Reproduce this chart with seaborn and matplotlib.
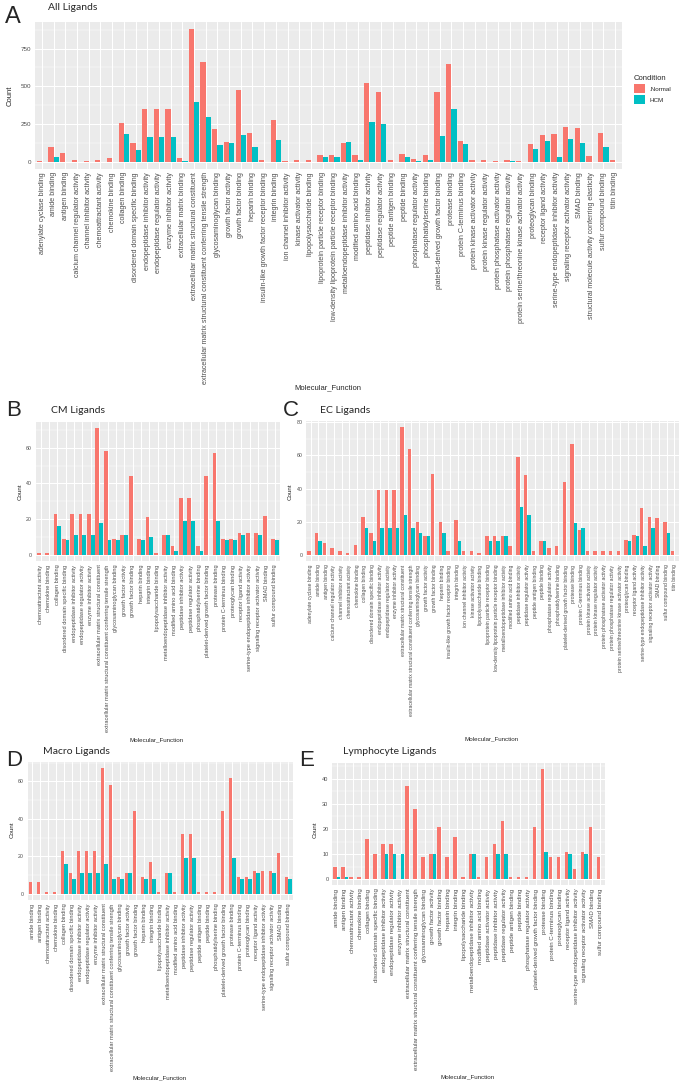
import numpy as np
import pandas as pd
import matplotlib
matplotlib.use("Agg")
import matplotlib.pyplot as plt
from matplotlib.patches import Patch
from matplotlib.ticker import MultipleLocator
import seaborn as sns

NA = np.nan

# --- values (Normal = .Normal, HCM = HCM, NA = no bar) ---
all_functions = [
    "adenylate cyclase binding", "amide binding", "antigen binding",
    "calcium channel regulator activity", "channel inhibitor activity",
    "chemoattractant activity", "chemokine binding", "collagen binding",
    "disordered domain specific binding", "endopeptidase inhibitor activity",
    "endopeptidase regulator activity", "enzyme inhibitor activity",
    "extracellular matrix binding", "extracellular matrix structural constituent",
    "extracellular matrix structural constituent conferring tensile strength",
    "glycosaminoglycan binding", "growth factor activity", "growth factor binding",
    "heparin binding", "insulin-like growth factor receptor binding", "integrin binding",
    "ion channel inhibitor activity", "kinase activator activity",
    "lipopolysaccharide binding", "lipoprotein particle receptor binding",
    "low-density lipoprotein particle receptor binding",
    "metalloendopeptidase inhibitor activity", "modified amino acid binding",
    "peptidase inhibitor activity", "peptidase regulator activity",
    "peptide antigen binding", "peptide binding", "phosphatase regulator activity",
    "phosphatidylserine binding", "platelet-derived growth factor binding",
    "protease binding", "protein C-terminus binding", "protein kinase activator activity",
    "protein kinase regulator activity", "protein phosphatase activator activity",
    "protein phosphatase regulator activity",
    "protein serine/threonine kinase activator activity", "proteoglycan binding",
    "receptor ligand activity", "serine-type endopeptidase inhibitor activity",
    "signaling receptor activator activity", "SMAD binding",
    "structural molecule activity conferring elasticity", "sulfur compound binding",
    "titin binding",
]
all_normal = [8, 101, 57, 15, 8, 12, 24, 257, 123, 349, 349, 353, 24, 882, 658, 215, 129,
              474, 191, 11, 279, 8, 11, 11, 48, 48, 125, 46, 520, 463, 15, 53, 20, 46, 463,
              645, 136, 11, 11, 7, 11, 7, 121, 180, 186, 232, 226, 39, 191, 9]
all_hcm = [NA, 31, NA, NA, NA, NA, NA, 184, 81, 162, 162, 167, 8, 397, 298, 110, 123,
           175, 101, NA, 143, NA, NA, NA, 31, 31, 129, 13, 263, 250, NA, 31, 7, 13, 173,
           349, 118, NA, NA, NA, 7, NA, 83, 136, 31, 149, 123, NA, 101, NA]

cm_functions = [
    "chemoattractant activity", "chemokine binding", "collagen binding",
    "disordered domain specific binding", "endopeptidase inhibitor activity",
    "endopeptidase regulator activity", "enzyme inhibitor activity",
    "extracellular matrix structural constituent",
    "extracellular matrix structural constituent conferring tensile strength",
    "glycosaminoglycan binding", "growth factor activity", "growth factor binding",
    "heparin binding", "integrin binding", "lipopolysaccharide binding",
    "metalloendopeptidase inhibitor activity", "modified amino acid binding",
    "peptidase inhibitor activity", "peptidase regulator activity",
    "phosphatidylserine binding", "platelet-derived growth factor binding",
    "protease binding", "protein C-terminus binding", "proteoglycan binding",
    "receptor ligand activity", "serine-type endopeptidase inhibitor activity",
    "signaling receptor activator activity", "SMAD binding", "sulfur compound binding",
]
cm_normal = [1, 1, 23, 9, 23, 23, 23, 71, 58, 9, 11, 44, 9, 21, 1, 11, 5, 32, 32, 5, 44,
             57, 9, 9, 12, 12, 12, 22, 9]
cm_hcm = [NA, NA, 16, 8, 11, 11, 11, 18, 8, 8, 11, NA, 8, 10, NA, 11, 2, 19, 19, 2, NA,
          19, 8, 8, 11, NA, 11, NA, 8]

ec_functions = [
    "adenylate cyclase binding", "amide binding", "antigen binding",
    "calcium channel regulator activity", "channel inhibitor activity",
    "chemoattractant activity", "chemokine binding", "collagen binding",
    "disordered domain specific binding", "endopeptidase inhibitor activity",
    "endopeptidase regulator activity", "enzyme inhibitor activity",
    "extracellular matrix structural constituent",
    "extracellular matrix structural constituent conferring tensile strength",
    "glycosaminoglycan binding", "growth factor activity", "growth factor binding",
    "heparin binding", "insulin-like growth factor receptor binding", "integrin binding",
    "ion channel inhibitor activity", "kinase activator activity",
    "lipopolysaccharide binding", "lipoprotein particle receptor binding",
    "low-density lipoprotein particle receptor binding",
    "metalloendopeptidase inhibitor activity", "modified amino acid binding",
    "peptidase inhibitor activity", "peptidase regulator activity",
    "peptide antigen binding", "peptide binding", "phosphatase regulator activity",
    "phosphatidylserine binding", "platelet-derived growth factor binding",
    "protease binding", "protein C-terminus binding", "protein kinase activator activity",
    "protein kinase regulator activity", "protein phosphatase activator activity",
    "protein phosphatase regulator activity",
    "protein serine/threonine kinase activator activity", "proteoglycan binding",
    "receptor ligand activity", "serine-type endopeptidase inhibitor activity",
    "signaling receptor activator activity", "SMAD binding", "sulfur compound binding",
    "titin binding",
]
ec_normal = [2, 13, 7, 4, 2, 1, 6, 23, 13, 39, 39, 39, 77, 64, 20, 11, 49, 20, 2, 21, 2, 2,
             1, 11, 11, 11, 5, 59, 48, 2, 8, 4, 5, 44, 67, 15, 2, 2, 2, 2, 2, 9, 12, 28, 23,
             22, 20, 2]
ec_hcm = [NA, 8, NA, NA, NA, NA, NA, 16, 8, 16, 16, 16, 24, 16, 13, 11, NA, 13, NA, 8, NA,
          NA, NA, 8, 8, 11, NA, 29, 24, NA, 8, NA, NA, NA, 19, 16, NA, NA, NA, NA, NA, 8,
          11, 5, 16, NA, 13, NA]

macro_functions = [
    "amide binding", "antigen binding", "chemoattractant activity", "chemokine binding",
    "collagen binding", "disordered domain specific binding",
    "endopeptidase inhibitor activity", "endopeptidase regulator activity",
    "enzyme inhibitor activity", "extracellular matrix structural constituent",
    "extracellular matrix structural constituent conferring tensile strength",
    "glycosaminoglycan binding", "growth factor activity", "growth factor binding",
    "heparin binding", "integrin binding", "lipopolysaccharide binding",
    "metalloendopeptidase inhibitor activity", "modified amino acid binding",
    "peptidase inhibitor activity", "peptidase regulator activity",
    "peptide antigen binding", "peptide binding", "phosphatidylserine binding",
    "platelet-derived growth factor binding", "protease binding",
    "protein C-terminus binding", "proteoglycan binding", "receptor ligand activity",
    "serine-type endopeptidase inhibitor activity", "signaling receptor activator activity",
    "SMAD binding", "sulfur compound binding",
]
macro_normal = [6, 6, 1, 1, 23, 11, 23, 23, 23, 67, 58, 9, 11, 44, 9, 17, 1, 11, 1, 32, 32,
                1, 1, 1, 44, 62, 9, 9, 12, 12, 12, 22, 9]
macro_hcm = [NA, NA, NA, NA, 16, 8, 11, 11, 11, 16, 8, 8, 11, NA, 8, 8, NA, 11, NA, 19, 19,
             NA, NA, NA, NA, 19, 8, 8, 11, NA, 11, NA, 8]

lympho_functions = [
    "amide binding", "antigen binding", "chemoattractant activity", "chemokine binding",
    "collagen binding", "disordered domain specific binding",
    "endopeptidase inhibitor activity", "endopeptidase regulator activity",
    "enzyme inhibitor activity", "extracellular matrix structural constituent",
    "extracellular matrix structural constituent conferring tensile strength",
    "glycosaminoglycan binding", "growth factor activity", "growth factor binding",
    "heparin binding", "integrin binding", "lipopolysaccharide binding",
    "metalloendopeptidase inhibitor activity", "modified amino acid binding",
    "peptidase activator activity", "peptidase inhibitor activity",
    "peptidase regulator activity", "peptide antigen binding", "peptide binding",
    "phosphatase regulator activity", "platelet-derived growth factor binding",
    "protease binding", "protein C-terminus binding", "proteoglycan binding",
    "receptor ligand activity", "serine-type endopeptidase inhibitor activity",
    "signaling receptor activator activity", "SMAD binding", "sulfur compound binding",
]
lympho_normal = [5, 5, 1, 1, 16, 10, 14, 14, NA, 37, 28, 9, 10, 21, 9, 17, 1, 10, 1, 9, 14,
                 23, 1, 1, 1, 21, 44, 9, 9, 11, 4, 11, 21, 9]
lympho_hcm = [1, 1, NA, NA, NA, NA, 10, 10, 10, NA, NA, NA, 10, NA, NA, NA, NA, 10, NA, NA,
              10, 10, NA, NA, NA, NA, 11, NA, NA, 10, NA, 10, NA, NA]

NORMAL_COLOR = "#F8766D"
HCM_COLOR = "#00BFC4"
W, H = 685, 1088


def px_box(left, top, right, bottom):
    return [left / W, 1 - bottom / H, (right - left) / W, (bottom - top) / H]


def fig_text(fig, x, y, s, **kw):
    fig.text(x / W, 1 - y / H, s, **kw)


def draw_panel(fig, box, functions, normal, hcm, step, tick_size, ytick_size):
    ax = fig.add_axes(px_box(*box))
    df = pd.DataFrame({"Molecular_Function": functions, ".Normal": normal, "HCM": hcm})
    df = df.melt(id_vars="Molecular_Function", var_name="Condition", value_name="Count").dropna()

    sns.barplot(data=df, x="Molecular_Function", y="Count", hue="Condition",
                order=functions, hue_order=[".Normal", "HCM"],
                palette={".Normal": NORMAL_COLOR, "HCM": HCM_COLOR},
                width=0.9, saturation=1, linewidth=0, errorbar=None,
                legend=False, ax=ax)

    top = df["Count"].max()
    ax.set_ylim(-0.05 * top, 1.05 * top)
    ax.set_xlim(-0.6, len(functions) - 0.4)
    ax.set_facecolor("#EBEBEB")
    ax.yaxis.set_major_locator(MultipleLocator(step))
    ax.yaxis.set_minor_locator(MultipleLocator(step / 2))
    ax.grid(True, which="major", color="white", linewidth=0.75)
    ax.grid(True, which="minor", axis="y", color="white", linewidth=0.35)
    ax.set_axisbelow(True)
    for s in ax.spines.values():
        s.set_visible(False)
    ax.set_xlabel("")
    ax.set_ylabel("")
    ax.tick_params(axis="x", rotation=90, labelsize=tick_size, colors="#333333",
                   labelcolor="#4D4D4D", length=1.6, width=0.4, pad=1)
    ax.tick_params(axis="y", labelsize=ytick_size, colors="#333333",
                   labelcolor="#4D4D4D", length=1.6, width=0.4, pad=1)
    ax.tick_params(which="minor", length=0)
    return ax


sns.set_theme(style="darkgrid")
plt.rcParams["font.family"] = ["Liberation Sans", "DejaVu Sans"]

fig = plt.figure(figsize=(W / 100, H / 100), dpi=100)

# --- A: all ligands ---
draw_panel(fig, (35, 22, 622, 168.5), all_functions, all_normal, all_hcm, 250, 5.1, 4.5)
fig_text(fig, 5, 17, "A", fontsize=17, va="center", ha="left")
fig_text(fig, 48, 7.5, "All Ligands", fontsize=7.5, family="Lato", va="center", ha="left")
fig_text(fig, 10, 96, "Count", fontsize=5.5, rotation=90, va="center", ha="center")
fig_text(fig, 328, 388, "Molecular_Function", fontsize=5.5, va="center", ha="center")

handles = [Patch(color=NORMAL_COLOR, linewidth=0), Patch(color=HCM_COLOR, linewidth=0)]
leg = fig.legend(handles, [".Normal", "HCM"], title="Condition",
                 loc="upper left", bbox_to_anchor=(631 / W, 1 - 73 / H),
                 frameon=False, fontsize=4.5, title_fontsize=5.5,
                 handlelength=1.9, handleheight=1.8, handletextpad=0.6,
                 labelspacing=0.3, borderaxespad=0)
leg._legend_box.align = "left"

# --- B: CM ligands ---
draw_panel(fig, (35.5, 422, 280, 561), cm_functions, cm_normal, cm_hcm, 20, 4.05, 3.8)
fig_text(fig, 6, 411, "B", fontsize=16, va="center", ha="left")
fig_text(fig, 51, 411, "CM Ligands", fontsize=7.5, family="Lato", va="center", ha="left")
fig_text(fig, 20, 492, "Count", fontsize=4.5, rotation=90, va="center", ha="center")
fig_text(fig, 157, 740, "Molecular_Function", fontsize=4.5, va="center", ha="center")

# --- C: EC ligands ---
draw_panel(fig, (306, 421, 679, 561), ec_functions, ec_normal, ec_hcm, 20, 3.65, 3.8)
fig_text(fig, 283, 411, "C", fontsize=16, va="center", ha="left")
fig_text(fig, 320, 411, "EC Ligands", fontsize=7.5, family="Lato", va="center", ha="left")
fig_text(fig, 290, 492, "Count", fontsize=4.5, rotation=90, va="center", ha="center")
fig_text(fig, 492, 739, "Molecular_Function", fontsize=4.5, va="center", ha="center")

# --- D: macrophage ligands ---
draw_panel(fig, (27.5, 762, 293, 900), macro_functions, macro_normal, macro_hcm, 20, 4.05, 3.8)
fig_text(fig, 6, 760, "D", fontsize=16, va="center", ha="left")
fig_text(fig, 43, 752, "Macro Ligands", fontsize=7.5, family="Lato", va="center", ha="left")
fig_text(fig, 12, 830, "Count", fontsize=4.5, rotation=90, va="center", ha="center")
fig_text(fig, 160, 1078, "Molecular_Function", fontsize=4.5, va="center", ha="center")

# --- E: lymphocyte ligands ---
draw_panel(fig, (332, 763, 605, 885), lympho_functions, lympho_normal, lympho_hcm, 10, 4.4, 4.0)
fig_text(fig, 299, 760, "E", fontsize=16, va="center", ha="left")
fig_text(fig, 343, 752, "Lymphocyte Ligands", fontsize=7.5, family="Lato", va="center", ha="left")
fig_text(fig, 315, 830, "Count", fontsize=4.5, rotation=90, va="center", ha="center")
fig_text(fig, 468, 1077, "Molecular_Function", fontsize=4.5, va="center", ha="center")

fig.savefig("out.png", dpi=100, facecolor="white")
